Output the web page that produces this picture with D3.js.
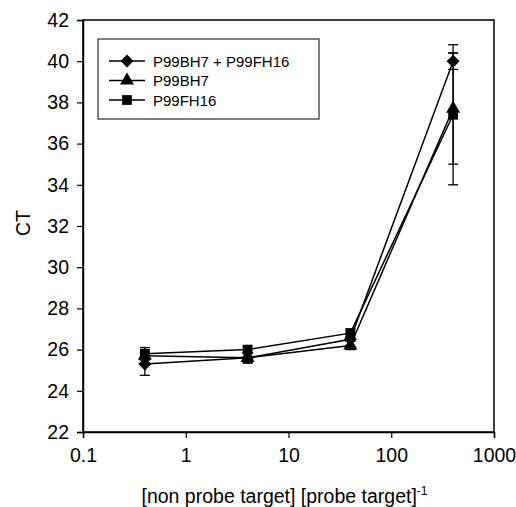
<!DOCTYPE html>
<html>
<head>
<meta charset="utf-8">
<script src="https://cdn.jsdelivr.net/npm/d3@7"></script>
<style>
  body { margin: 0; background: #fff; }
  svg { font-family: Arial, "Liberation Sans", sans-serif; }
</style>
</head>
<body>
<svg width="516" height="507"></svg>
<script>
// data
const ratios = [0.4, 4, 40, 400];
const seriesNames = ['P99BH7 + P99FH16', 'P99BH7', 'P99FH16'];
const symbols = ['diamond', 'triangle', 'square'];
const bothCT = [25.3, 25.6, 26.5, 40.0];
const bothErr = [0.55, 0.25, 0.3, 0.4];
const bh7CT = [25.7, 25.6, 26.2, 37.7];
const bh7Err = [0.2, 0.25, 0.2, 2.7];
const fh16CT = [25.8, 26.0, 26.8, 37.4];
const fh16Err = [0.3, 0.15, 0.2, 3.4];
const xTicks = [0.1, 1, 10, 100, 1000];
const yTicks = d3.range(22, 43, 2);

const series = [
  { name: seriesNames[0], sym: symbols[0], ct: bothCT, err: bothErr },
  { name: seriesNames[1], sym: symbols[1], ct: bh7CT, err: bh7Err },
  { name: seriesNames[2], sym: symbols[2], ct: fh16CT, err: fh16Err }
];

/**
 * Set stuff up.
 */
const svg = d3.select('svg');
const plotL = 83, plotR = 494, plotT = 20, plotB = 432;

const x = d3.scaleLog().domain([0.1, 1000]).range([plotL, plotR]);
const y = d3.scaleLinear().domain([22, 42]).range([plotB, plotT]);

/**
 * Frame.
 */
svg.append('rect')
    .attr('x', plotL).attr('y', plotT)
    .attr('width', plotR - plotL).attr('height', plotB - plotT)
    .attr('fill', 'none').attr('stroke', '#000').attr('stroke-width', 1.5);

/**
 * Axes.
 */
const xAxis = svg.append('g')
    .attr('transform', `translate(0,${plotB})`)
    .call(d3.axisBottom(x).tickValues(xTicks).tickSize(6).tickPadding(10)
        .tickFormat(d => d3.format('~g')(d)));

const yAxis = svg.append('g')
    .attr('transform', `translate(${plotL},0)`)
    .call(d3.axisLeft(y).tickValues(yTicks).tickSize(6).tickPadding(8));

[xAxis, yAxis].forEach(a => {
    a.select('.domain').attr('stroke-width', 1.5);
    a.selectAll('.tick line').attr('stroke-width', 1.2);
    a.selectAll('text').attr('font-size', 19.5).attr('fill', '#000')
        .attr('font-family', 'Arial, "Liberation Sans", sans-serif');
});

// axis titles
const xt = svg.append('text')
    .attr('x', (plotL + plotR) / 2 - 4).attr('y', 503)
    .attr('text-anchor', 'middle').attr('font-size', 19.5);
xt.append('tspan').text('[non probe target] [probe target]');
xt.append('tspan').attr('dy', -8).attr('font-size', 12).text('-1');

svg.append('text')
    .attr('transform', `translate(30,${(plotT + plotB) / 2 - 3}) rotate(-90)`)
    .attr('text-anchor', 'middle').attr('font-size', 19.5)
    .text('CT');

/**
 * Marker shapes.
 */
const shapes = {
    diamond: 'M0,-6.5L6.5,0L0,6.5L-6.5,0Z',
    triangle: d3.symbol(d3.symbolTriangle, 85)(),
    square: d3.symbol(d3.symbolSquare, 95)()
};
function marker(sel, sym) {
    sel.append('path').attr('d', shapes[sym]).attr('fill', '#000');
}

/**
 * Series.
 */
const line = d3.line().x(d => x(d.r)).y(d => y(d.v));

series.forEach(s => {
    const pts = ratios.map((r, i) => ({ r: r, v: s.ct[i], e: s.err[i] }));
    const g = svg.append('g');

    // error bars
    const eb = g.selectAll('.eb').data(pts).enter().append('g')
        .attr('stroke', '#000').attr('stroke-width', 1.3);
    eb.append('line')
        .attr('x1', d => x(d.r)).attr('x2', d => x(d.r))
        .attr('y1', d => y(d.v - d.e)).attr('y2', d => y(d.v + d.e));
    [-1, 1].forEach(k => {
        eb.append('line')
            .attr('x1', d => x(d.r) - 5).attr('x2', d => x(d.r) + 5)
            .attr('y1', d => y(d.v + k * d.e)).attr('y2', d => y(d.v + k * d.e));
    });

    g.append('path').datum(pts).attr('d', line)
        .attr('fill', 'none').attr('stroke', '#000').attr('stroke-width', 1.5);

    g.selectAll('.m').data(pts).enter().append('g')
        .attr('transform', d => `translate(${x(d.r)},${y(d.v)})`)
        .each(function () { marker(d3.select(this), s.sym); });
});

/**
 * Legend.
 */
const lg = svg.append('g');
lg.append('rect')
    .attr('x', 98).attr('y', 39).attr('width', 221).attr('height', 80)
    .attr('fill', '#fff').attr('stroke', '#000').attr('stroke-width', 1);

series.forEach((s, i) => {
    const yy = 61 + i * 19.5;
    lg.append('line').attr('x1', 109).attr('x2', 145).attr('y1', yy).attr('y2', yy)
        .attr('stroke', '#000').attr('stroke-width', 1.5);
    const m = lg.append('g').attr('transform', `translate(127,${yy})`);
    marker(m, s.sym);
    lg.append('text').attr('x', 153).attr('y', yy + 5.5)
        .attr('font-size', 15).text(s.name);
});
</script>
</body>
</html>
